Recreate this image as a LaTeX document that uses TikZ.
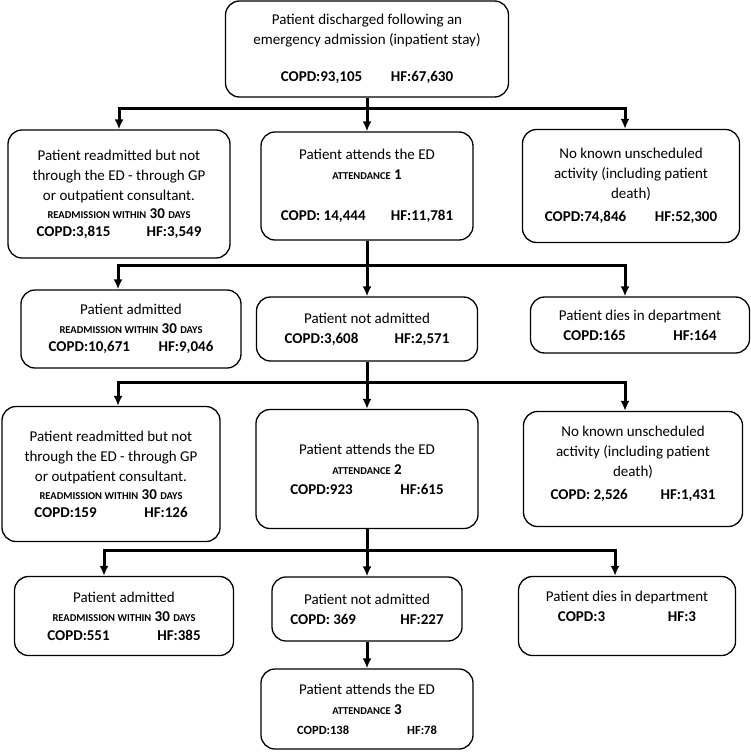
\documentclass[tikz,border=0pt]{standalone}
\usepackage{fontspec}
\setmainfont{Carlito}
\usetikzlibrary{shapes, arrows.meta}
\tikzstyle{block} = [rectangle, draw, line width=1.3pt, rounded corners=14pt,
    align=center, inner sep=2pt, font=\fontsize{15}{20}\selectfont]
\tikzstyle{line} = [draw, line width=3pt, -{Latex[length=10pt,width=9pt]}]
\tikzstyle{bar} = [draw, line width=3pt]
\newcommand{\smc}[1]{{\fontsize{10.5}{20}\selectfont\bfseries #1}}
\newcommand{\readm}{\textbf{\smc{READMISSION WITHIN} 30 \smc{DAYS}}}
\newcommand{\attend}[1]{\textbf{\smc{ATTENDANCE} #1}}
\newcommand{\nums}[3][110pt]{\makebox[#1][l]{\textbf{#2}}\textbf{#3}}

\begin{document}
\begin{tikzpicture}[x=1pt, y=-1pt, auto]
        \useasboundingbox (0,0) rectangle (751,752);
        % Place nodes
        \node [block, minimum width=283pt, minimum height=96pt] (discharged) at (367,49) {
            Patient discharged following an\\ emergency admission (inpatient stay)\\[17pt]
            \nums{COPD:93,105}{HF:67,630}};
        \node [block, below of=discharged, node distance=137pt, minimum width=212pt, minimum height=108pt] (ed1) {
            Patient attends the ED\\ \attend{1}\\[21pt] \nums{COPD: 14,444}{HF:11,781}};
        \node [block, left of=ed1, node distance=248pt, yshift=-8pt, minimum width=222pt, minimum height=128pt] (readm1) {
            Patient readmitted but not\\ through the ED - through GP\\ or outpatient consultant.\\[-2pt]
            \readm\\[-2pt] \nums{COPD:3,815}{HF:3,549}};
        \node [block, right of=ed1, node distance=264pt, minimum width=217pt, minimum height=113pt] (noact1) {
            No known unscheduled\\ activity (including patient\\ death)\\[3pt] \nums{COPD:74,846}{HF:52,300}};
        % Second level
        \node [block, below of=ed1, node distance=143pt, minimum width=221pt, minimum height=64pt] (notadm1) {
            Patient not admitted\\ \nums{COPD:3,608}{HF:2,571}};
        \node [block, left of=notadm1, node distance=236pt, minimum width=220pt, minimum height=78pt] (adm1) {
            Patient admitted\\[-1pt] \readm\\[-2pt] \nums{COPD:10,671}{HF:9,046}};
        \node [block, right of=notadm1, node distance=273pt, yshift=4pt, minimum width=219pt, minimum height=56pt] (dies1) {
            Patient dies in department\\ \nums{COPD:165}{HF:164}};
        % Third level
        \node [block, below of=notadm1, node distance=140pt, minimum width=222pt, minimum height=119pt] (ed2) {
            Patient attends the ED\\ \attend{2}\\ \nums{COPD:923}{HF:615}};
        \node [block, left of=ed2, node distance=256pt, yshift=-5pt, minimum width=218pt, minimum height=135pt] (readm2) {
            Patient readmitted but not\\ through the ED - through GP\\ or outpatient consultant.\\[-2pt]
            \readm\\[-2pt] \nums{COPD:159}{HF:126}};
        \node [block, right of=ed2, node distance=266pt, minimum width=219pt, minimum height=115pt] (noact2) {
            No known unscheduled\\ activity (including patient\\ death)\\[3pt] \nums{COPD: 2,526}{HF:1,431}\\[-8pt] \mbox{}};
        % Fourth level
        \node [block, below of=ed2, node distance=140pt, minimum width=190pt, minimum height=64pt] (notadm2) {
            Patient not admitted\\ \nums{COPD: 369}{HF:227}};
        \node [block, left of=notadm2, node distance=243pt, yshift=-7pt, minimum width=219pt, minimum height=79pt] (adm2) {
            Patient admitted\\[-1pt] \readm\\[-1pt] \nums{COPD:551}{HF:385}};
        \node [block, right of=notadm2, node distance=260pt, yshift=-7pt, minimum width=217pt, minimum height=79pt] (dies2) {
            Patient dies in department\\ \nums{COPD:3}{HF:3}\\ \mbox{}};
        \node [block, below of=notadm2, node distance=100pt, minimum width=212pt, minimum height=80pt] (ed3) {
            Patient attends the ED\\ \attend{3}\\ {\fontsize{12.5}{20}\selectfont\nums{COPD:138}{HF:78}}};
        % Draw edges
        \path [bar] (discharged.south) -- ++(0,-11pt) coordinate (split1);
        \path [line] (split1) -| (readm1.north);
        \path [line] (split1) -- (ed1.north);
        \path [line] (split1) -| ([xshift=-6pt]noact1.north);
        \path [bar] (ed1.south) -- ++(0,-25pt) coordinate (split2);
        \path [line] (split2) -| ([xshift=-13pt]adm1.north);
        \path [line] (split2) -- (notadm1.north);
        \path [line] (split2) -| ([xshift=-15pt]dies1.north);
        \path [bar] (notadm1.south) -- ++(0,-21pt) coordinate (split3);
        \path [line] (split3) -| ([xshift=7pt]readm2.north);
        \path [line] (split3) -- (ed2.north);
        \path [line] (split3) -| ([xshift=-8pt]noact2.north);
        \path [bar] (ed2.south) -- ++(0,-21pt) coordinate (split4);
        \path [line] (split4) -| ([xshift=-20pt]adm2.north);
        \path [line] (split4) -- (notadm2.north);
        \path [line] (split4) -| ([xshift=-12pt]dies2.north);
        \path [line] (notadm2) -- (ed3);
\end{tikzpicture}
\end{document}
